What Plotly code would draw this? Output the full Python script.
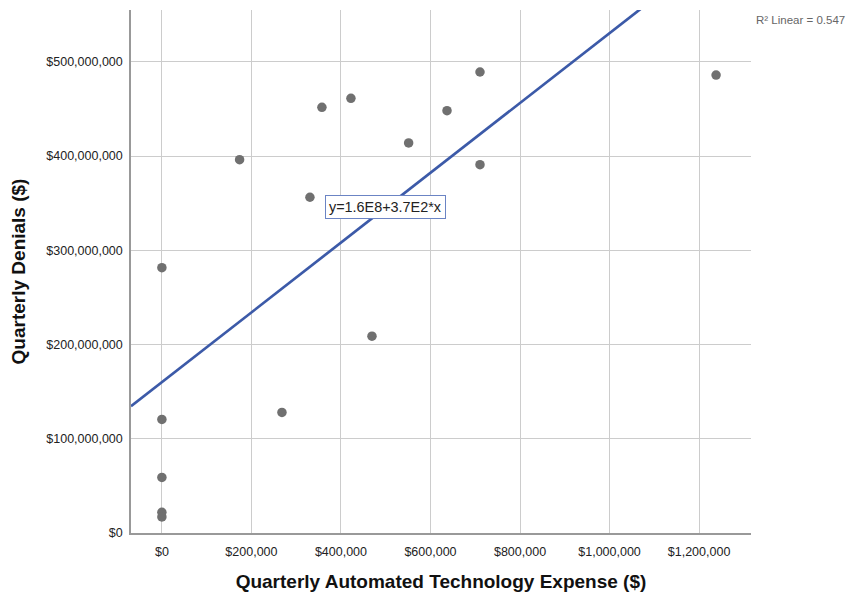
import numpy as np
import plotly.graph_objects as go

# Data
expense = [0, 0, 0, 0, 0, 173600, 268200, 330700, 357500, 422300, 469300,
           551200, 636900, 710600, 710600, 1238000]
denials = [281.6e6, 120.5e6, 59.0e6, 21.9e6, 17.0e6, 396.2e6, 127.9e6, 356.3e6,
           451.7e6, 461.3e6, 208.9e6, 413.9e6, 448.2e6, 489.2e6, 390.9e6, 486.0e6]

intercept = 1.6e8
slope = 370.4
r2_label = "R² Linear = 0.547"
eq_label = "y=1.6E8+3.7E2*x"

x_ticks = [0, 200000, 400000, 600000, 800000, 1000000, 1200000]
x_tick_text = ["$0", "$200,000", "$400,000", "$600,000", "$800,000", "$1,000,000", "$1,200,000"]
y_ticks = [0, 100e6, 200e6, 300e6, 400e6, 500e6]
y_tick_text = ["$0", "$100,000,000", "$200,000,000", "$300,000,000", "$400,000,000", "$500,000,000"]

x_range = [-69000, 1316000]
y_range = [0, 555e6]

FONT = "Liberation Sans, Arial, sans-serif"

fig = go.Figure()

line_x = np.array(x_range, dtype=float)
line_y = intercept + slope * line_x
fig.add_trace(go.Scatter(x=line_x, y=line_y, mode="lines",
                         line=dict(color="#3c5aa8", width=2.7),
                         hoverinfo="skip", showlegend=False))

fig.add_trace(go.Scatter(x=expense, y=denials, mode="markers",
                         marker=dict(color="#707070", size=9.5, line=dict(width=0)),
                         showlegend=False, cliponaxis=False))

# page has an 8px body margin, so the figure is sized/offset to compensate
fig.update_layout(
    width=847, height=586,
    margin=dict(l=123, r=104, t=2, b=61),
    paper_bgcolor="white", plot_bgcolor="white",
    font=dict(family=FONT, color="#222"),
    xaxis=dict(range=x_range, tickvals=x_ticks, ticktext=x_tick_text,
               showgrid=True, gridcolor="#cccccc", gridwidth=1,
               zeroline=False, showline=True, linecolor="#999999", linewidth=1.5,
               ticks="", ticklabelstandoff=6,
               tickfont=dict(size=12.5, color="#222", family=FONT),
               title=dict(text="<b>Quarterly Automated Technology Expense ($)</b>",
                          font=dict(size=19, color="#111", family=FONT), standoff=17)),
    yaxis=dict(range=y_range, tickvals=y_ticks, ticktext=y_tick_text,
               showgrid=True, gridcolor="#cccccc", gridwidth=1,
               zeroline=False, showline=True, linecolor="#999999", linewidth=1.5,
               ticks="", ticklabelstandoff=4,
               tickfont=dict(size=12.5, color="#222", family=FONT),
               title=dict(text="<b>Quarterly Denials ($)</b>",
                          font=dict(size=19, color="#111", family=FONT), standoff=16)),
)

fig.add_annotation(x=1.0, xref="paper", y=1.0, yref="paper", xanchor="left", yanchor="top",
                   xshift=3, yshift=-2, text=r2_label, showarrow=False,
                   font=dict(size=11.5, color="#666666", family=FONT))

fig.add_annotation(x=500600, y=345.5e6, xref="x", yref="y", text=eq_label, showarrow=False,
                   xanchor="center", yanchor="middle",
                   bgcolor="white", bordercolor="#6b84c4", borderwidth=1, borderpad=3,
                   font=dict(size=14.4, color="#222", family=FONT))

fig.write_html("out.html")
